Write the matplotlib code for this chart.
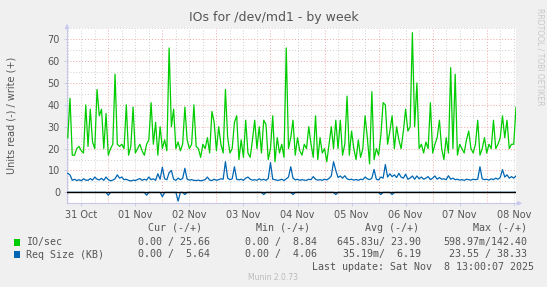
import numpy as np
import matplotlib
matplotlib.use("Agg")
import matplotlib.pyplot as plt
import matplotlib.dates as mdates
from datetime import datetime, timedelta

# hourly samples, 31 Oct 06:00 -> 08 Nov 13:00
t0 = datetime(2025, 10, 31, 6, 0)

io_write = [25, 43, 17, 17, 20, 21, 19, 18, 40, 21, 38, 23, 20, 47, 35, 38, 20, 36, 17, 20,
            22, 54, 22, 21, 22, 20, 40, 17, 21, 39, 18, 20, 22, 19, 17, 22, 24, 41, 22, 32,
            17, 30, 20, 24, 19, 66, 30, 38, 20, 23, 19, 22, 39, 24, 20, 22, 40, 21, 20, 16,
            22, 20, 25, 18, 37, 32, 19, 30, 22, 18, 47, 25, 18, 20, 32, 35, 15, 24, 16, 33,
            18, 16, 24, 33, 20, 30, 18, 33, 31, 15, 20, 35, 14, 25, 18, 22, 16, 66, 20, 25,
            33, 17, 25, 19, 17, 22, 20, 30, 22, 16, 35, 15, 25, 18, 20, 14, 22, 30, 20, 33,
            20, 33, 17, 22, 44, 17, 28, 20, 15, 24, 16, 20, 35, 25, 13, 46, 15, 20, 17, 26,
            41, 40, 22, 28, 35, 20, 30, 24, 20, 28, 38, 28, 30, 73, 30, 50, 20, 22, 18, 23,
            20, 41, 18, 22, 25, 33, 20, 15, 25, 18, 57, 20, 54, 17, 22, 20, 18, 24, 28, 20,
            18, 22, 33, 17, 20, 25, 18, 22, 20, 33, 20, 22, 25, 35, 25, 33, 20, 22, 22, 39]

req_write = [8.7, 8.0, 5.5, 6.0, 5.4, 5.8, 5.3, 6.2, 5.6, 5.5, 6.3, 5.6, 7.0, 6.0, 5.7, 6.4, 5.5, 7.0, 5.8, 5.3,
             5.6, 6.2, 8.0, 6.5, 7.0, 5.8, 6.0, 5.5, 5.2, 5.6, 5.4, 5.9, 6.3, 5.5, 6.0, 5.6, 7.0, 5.8, 6.2, 5.5,
             8.5, 6.0, 11.5, 6.2, 5.8, 9.0, 10.0, 6.0, 5.5, 6.5, 5.8, 6.3, 11.0, 6.0, 5.6, 5.8, 5.5, 5.4, 5.6, 5.3,
             5.5, 5.8, 7.0, 5.6, 5.4, 6.0, 5.5, 5.8, 6.2, 6.0, 14.0, 6.5, 5.8, 6.2, 11.7, 6.0, 5.7, 6.0, 5.5, 6.5,
             7.0, 6.0, 5.6, 5.8, 5.5, 6.2, 5.6, 6.0, 5.5, 6.3, 13.6, 6.0, 5.8, 5.5, 5.6, 6.0, 5.4, 6.2, 7.0, 11.7,
             6.5, 5.7, 6.0, 5.5, 5.8, 5.6, 5.5, 6.0, 5.8, 7.2, 6.0, 5.6, 5.8, 5.5, 6.0, 5.7, 6.4, 7.5, 14.0, 10.0,
             6.8, 7.5, 6.5, 7.6, 6.2, 5.8, 6.0, 5.6, 5.9, 5.5, 6.0, 5.8, 7.0, 6.2, 5.8, 6.5, 10.5, 6.0, 5.7, 7.0,
             6.5, 12.7, 7.0, 8.5, 7.2, 8.0, 6.8, 8.7, 7.0, 6.5, 8.3, 6.0, 6.5, 7.5, 6.0, 7.5, 6.2, 7.0, 6.0, 6.5,
             7.2, 5.8, 6.5, 7.5, 6.0, 6.8, 6.0, 6.2, 5.8, 7.6, 6.0, 6.5, 5.8, 6.0, 5.6, 5.8, 5.5, 6.0, 5.8, 5.6,
             6.0, 5.8, 6.0, 11.7, 6.2, 5.8, 6.0, 5.6, 6.2, 5.8, 6.5, 6.0, 6.8, 10.4, 7.0, 8.0, 6.5, 7.2, 6.5, 7.5]

# read side (drawn negative): mostly zero, a few dips
read_idx = [18, 35, 42, 49, 52, 87, 100, 119, 139, 144]
read_val = [1.3, 1.3, 2.0, 4.0, 1.0, 1.0, 1.0, 1.0, 1.0, 1.0]

legend_rows = [
    ("IO/sec", "#00CC00", ["0.00 / 25.66", "0.00 /  8.84", "645.83u/ 23.90", "598.97m/142.40"]),
    ("Req Size (KB)", "#0066B3", ["0.00 /  5.64", "0.00 /  4.06", "35.19m/  6.19", "23.55 / 38.33"]),
]
headers = ["Cur (-/+)", "Min (-/+)", "Avg (-/+)", "Max (-/+)"]

n = len(io_write)
times = [t0 + timedelta(hours=i) for i in range(n)]
req_read = np.zeros(n)
req_read[read_idx] = read_val

W, H = 547, 287
fig = plt.figure(figsize=(W / 100, H / 100), dpi=100, facecolor="#F0F0F0")
ax = fig.add_axes([67 / W, 1 - 203.3 / H, 449 / W, (203.3 - 28.3) / H])
ax.set_facecolor("white")

x0 = datetime(2025, 10, 31, 5, 40)
x1 = datetime(2025, 11, 8, 13, 0)
ax.set_xlim(x0, x1)
ax.set_ylim(-5, 75)

# grid: gray every 6h / 5 units, red at midnight / every 10
gray = "#D0D0D0"
red = "#F0A8A8"
t = datetime(2025, 10, 31, 6, 0)
while t < x1:
    col = red if t.hour == 0 else gray
    ax.axvline(t, color=col, lw=0.7, ls=(0, (1, 2)), zorder=0)
    t += timedelta(hours=6)
for v in range(-5, 80, 5):
    if v == 0:
        continue
    col = red if v % 10 == 0 else gray
    ax.axhline(v, color=col, lw=0.7, ls=(0, (1, 2)), zorder=0)

ax.plot(times, -req_read, color="#0066B3", lw=0.9, zorder=2)
ax.axhline(0, color="black", lw=1.0, zorder=3)
ax.plot(times, io_write, color="#00CC00", lw=0.9, zorder=4)
ax.plot(times, req_write, color="#0066B3", lw=0.9, zorder=5)

for s in ["top", "right"]:
    ax.spines[s].set_visible(False)
for s in ["left", "bottom"]:
    ax.spines[s].set_color("#C8C8E8")
    ax.spines[s].set_linewidth(0.8)

ax.xaxis.set_major_locator(mdates.HourLocator(byhour=[12]))
ax.xaxis.set_major_formatter(mdates.DateFormatter("%d %b"))
ax.set_yticks(range(0, 80, 10))
ax.tick_params(axis="both", colors="#C8C8E8", labelcolor="#555555", labelsize=7, length=2, width=0.6, pad=3)

ax.annotate("", xy=(0, 1.04), xytext=(0, 1.0), xycoords="axes fraction",
            arrowprops=dict(arrowstyle="-|>", color="#C8C8F0", lw=0.8, mutation_scale=6))
ax.annotate("", xy=(1.02, 0), xytext=(1.0, 0), xycoords="axes fraction",
            arrowprops=dict(arrowstyle="-|>", color="#C8C8F0", lw=0.8, mutation_scale=6))

fig.text(273.5 / W, 1 - 18 / H, "IOs for /dev/md1 - by week", ha="center", va="center",
         fontsize=9, color="#555555")
fig.text(12 / W, 1 - 115 / H, "Units read (-) / write (+)", rotation=90, ha="center",
         va="center", fontsize=7, color="#555555")
fig.text(540 / W, 1 - 8 / H, "RRDTOOL / TOBI OETIKER", rotation=270, ha="center", va="top",
         fontsize=5.5, color="#C8C8C8")

mono = "DejaVu Sans Mono"
col_ends = [202, 310, 419, 527]
val_ends = [210, 317, 421, 527]
for h, xe in zip(headers, col_ends):
    fig.text(xe / W, 1 - 228 / H, h, ha="right", va="center", family=mono, fontsize=7.2, color="#555555")
for r, (name, color, vals) in enumerate(legend_rows):
    y = 1 - (242 + 12.5 * r) / H
    fig.patches.append(plt.Rectangle((13.5 / W, y - 3.5 / H), 6 / W, 7 / H, transform=fig.transFigure,
                                     facecolor=color, edgecolor="none"))
    fig.text(26 / W, y, name, ha="left", va="center", family=mono, fontsize=7.2, color="#555555")
    for v, xe in zip(vals, val_ends):
        fig.text(xe / W, y, v, ha="right", va="center", family=mono, fontsize=7.2, color="#555555")
fig.text(534 / W, 1 - 267 / H, "Last update: Sat Nov  8 13:00:07 2025", ha="right", va="center",
         family=mono, fontsize=7.2, color="#555555")
fig.text(273.5 / W, 1 - 278 / H, "Munin 2.0.73", ha="center", va="center", fontsize=5.5, color="#BBBBBB")

fig.savefig("out.png", dpi=100, facecolor=fig.get_facecolor())
